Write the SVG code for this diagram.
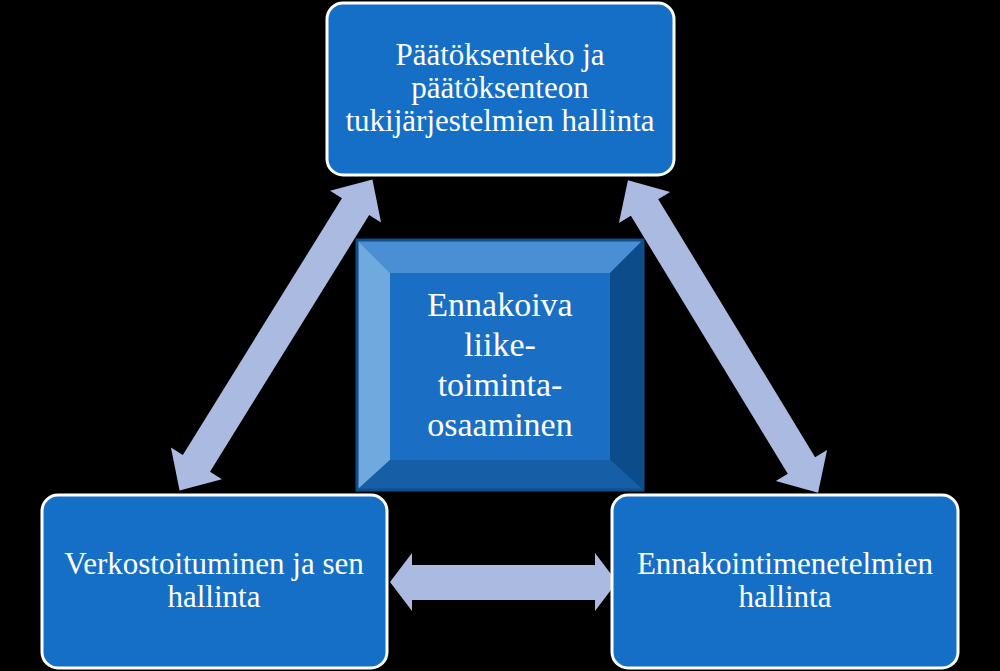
<svg xmlns="http://www.w3.org/2000/svg" width="1000" height="671" viewBox="0 0 1000 671">
<style>
.node{fill:#156fc6;stroke:#ffffff;stroke-width:3}
.t{font-family:"Liberation Serif","DejaVu Serif",serif;fill:#ffffff;text-anchor:middle}
.arr{fill:#abbae0}
</style>
<defs>
<polygon id="dArr" points="-183,0 -151,-30 -151,-16 151,-16 151,-30 183,0 151,30 151,16 -151,16 -151,30"/>
</defs>
<rect width="1000" height="671" fill="#000000"/>
<g id="connectors" class="arr">
<use href="#dArr" transform="translate(276,335) rotate(-58.2)"/>
<use href="#dArr" transform="translate(723,336.5) rotate(58.7)"/>
<polygon points="390,582 412,553 412,565 595,565 595,553 617,582 595,611 595,600 412,600 412,611"/>
</g>
<g id="node-top">
<rect class="node" x="327" y="3" width="347" height="172" rx="16"/>
<text class="t" font-size="31"><tspan x="500" y="65">Päätöksenteko ja</tspan><tspan x="500" y="98">päätöksenteon</tspan><tspan x="500" y="131">tukijärjestelmien hallinta</tspan></text>
</g>
<g id="node-left">
<rect class="node" x="42" y="495" width="345" height="173" rx="16"/>
<text class="t" font-size="31"><tspan x="214" y="574">Verkostoituminen ja sen</tspan><tspan x="214" y="607">hallinta</tspan></text>
</g>
<g id="node-right">
<rect class="node" x="612" y="495" width="346" height="173" rx="16"/>
<text class="t" font-size="31"><tspan x="785" y="574">Ennakointimenetelmien</tspan><tspan x="785" y="607">hallinta</tspan></text>
</g>
<g id="node-center">
<rect x="357" y="240" width="286" height="250" fill="#1a6fc4"/>
<polygon points="357,240 643,240 610,273 390,273" fill="#4a8fd4"/>
<polygon points="357,240 390,273 390,460 357,490" fill="#6fa9de"/>
<polygon points="643,240 643,490 610,460 610,273" fill="#0d4c8a"/>
<polygon points="357,490 390,460 610,460 643,490" fill="#165ea6"/>
<rect x="357" y="240" width="286" height="250" fill="none" stroke="#0f4f8c" stroke-width="3"/>
<text class="t" font-size="34"><tspan x="500" y="316">Ennakoiva</tspan><tspan x="500" y="356">liike-</tspan><tspan x="500" y="396">toiminta-</tspan><tspan x="500" y="436">osaaminen</tspan></text>
</g>
</svg>
